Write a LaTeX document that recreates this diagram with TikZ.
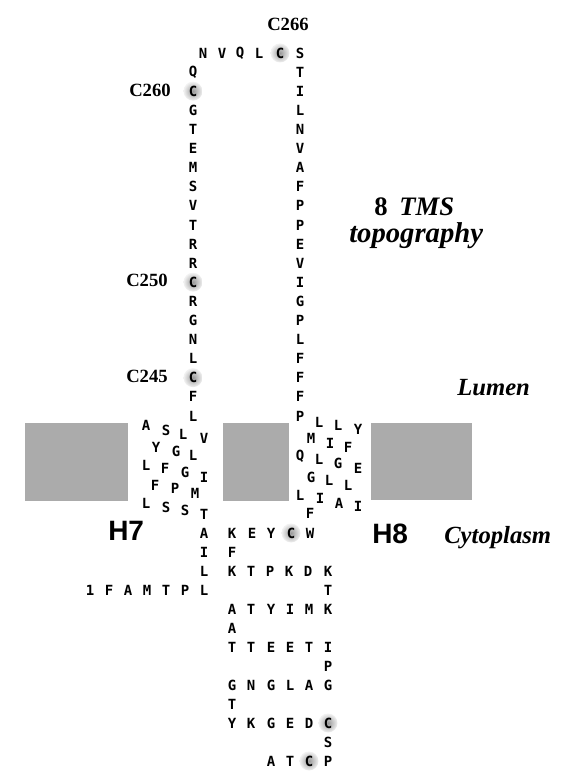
\documentclass[tikz,border=0pt]{standalone}
\usepackage{fontspec}
\setmainfont{Liberation Serif}
\newfontfamily\resfont{DejaVu Sans Mono}
\newfontfamily\hfont{Liberation Sans}
\begin{document}
\begin{tikzpicture}[x=0.75pt,y=-0.75pt,
  res/.style={font=\resfont\bfseries\fontsize{10.5}{10.5}\selectfont, inner sep=0pt, anchor=center},
  cyshalo/.style={inner color=black!40, outer color=black!5},
  membrane/.style={fill=black!33},
  clabel/.style={font=\bfseries\fontsize{14}{14}\selectfont, inner sep=0pt, anchor=center},
  biglabel/.style={font=\bfseries\itshape\fontsize{18.5}{18.5}\selectfont, inner sep=0pt, anchor=base west},
  hlabel/.style={font=\hfont\bfseries\fontsize{21}{21}\selectfont, inner sep=0pt, anchor=base west}]
\useasboundingbox (0,0) rectangle (572,784);
% membrane blocks
\fill[membrane] (25,423) rectangle (128,501);
\fill[membrane] (223,423) rectangle (289,501);
\fill[membrane] (371,423) rectangle (472,500);
% cysteine halos
\foreach \x/\y in {280/53, 193/91.2, 193/282.2, 193/377.7, 291/533, 328/723, 309/761}
  \shade[cyshalo] (\x,\y) circle (9.5);
% top row
\foreach \l/\x [count=\k] in {N/203,V/222,Q/240,L/259,C/280,S/300}
  \node[res] (T\k) at (\x,53) {\l};
% left loop column
\foreach \l [count=\k] in {Q,C,G,T,E,M,S,V,T,R,R,C,R,G,N,L,C,F,L}
  \node[res] (L\k) at (193,{53+19.1*\k}) {\l};
% right loop column
\foreach \l [count=\k] in {T,I,L,N,V,A,F,P,P,E,V,I,G,P,L,F,F,F,P}
  \node[res] (R\k) at (300,{53+19.1*\k}) {\l};
% helix H7
\foreach \l/\x/\y [count=\k] in {A/146/425,S/166/430,L/183/434,V/204/438,Y/156/447,G/176/451,L/193/455,L/146/465,F/165/468,G/185/472,I/204/477,F/155/485,P/175/488,M/195/493,L/146/503,S/166/507,S/185/510,T/204/514}
  \node[res] (HA\k) at (\x,\y) {\l};
% helix H8
\foreach \l/\x/\y [count=\k] in {L/319/422,L/338/425,Y/358/429,M/311/438,I/330/443,F/348/447,Q/300/456,L/319/459,G/338/463,E/358/468,G/311/477,L/329/480,L/348/485,L/300/495,I/320/498,A/339/503,I/358/506,F/310/513}
  \node[res] (HB\k) at (\x,\y) {\l};
% cytoplasmic part
\foreach \l/\x/\y [count=\k] in {
  A/204/533,I/204/552,L/204/571,L/204/590,
  P/185/590,T/166/590,M/147/590,A/128/590,F/109/590,1/90/590,
  K/232/533,E/252/533,Y/271/533,C/291/533,W/310/533,
  F/232/552,
  K/232/571,T/251/571,P/270/571,K/289/571,D/308/571,K/328/571,
  T/328/590,
  A/232/609,T/251/609,Y/271/609,I/290/609,M/309/609,K/328/609,
  A/232/628,
  T/232/647,T/251/647,E/271/647,E/290/647,T/309/647,I/328/647,
  P/328/666,
  G/232/685,N/251/685,G/271/685,L/290/685,A/309/685,G/328/685,
  T/232/704,
  Y/232/723,K/251/723,G/271/723,E/290/723,D/309/723,C/328/723,
  S/328/742,
  A/271/761,T/290/761,C/309/761,P/328/761}
  \node[res] (C\k) at (\x,\y) {\l};
% labels
\node[clabel] (c266) at (288,24) {C266};
\node[clabel] (c260) at (150,90) {C260};
\node[clabel] (c250) at (147,280) {C250};
\node[clabel] (c245) at (147,376) {C245};
\node[font=\bfseries\fontsize{20}{20}\selectfont, inner sep=0pt, anchor=base west] (eight) at (374,215) {8};
\node[font=\bfseries\itshape\fontsize{20}{20}\selectfont, inner sep=0pt, anchor=base west] (tms) at (399,215) {TMS};
\node[font=\bfseries\itshape\fontsize{21.5}{21.5}\selectfont, inner sep=0pt, anchor=base west] (topo) at (349,243) {topography};
\node[biglabel] (lumen) at (457,395) {Lumen};
\node[biglabel] (cyto) at (444,543) {Cytoplasm};
\node[hlabel] (h7) at (108,540) {H7};
\node[hlabel] (h8) at (372,543) {H8};
\end{tikzpicture}
\end{document}
